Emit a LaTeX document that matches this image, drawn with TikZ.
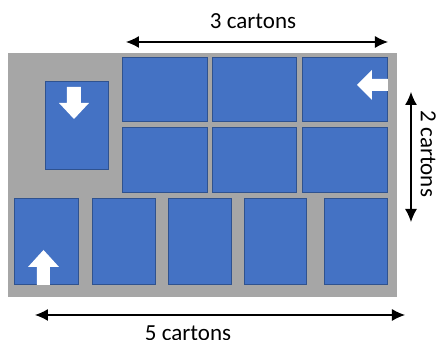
\documentclass[tikz,border=0pt]{standalone}
\usepackage{fontspec}
\setmainfont{Carlito}
\usetikzlibrary{arrows.meta}
\definecolor{boxblue}{HTML}{4472C4}
\definecolor{boxedge}{HTML}{2F528F}
\definecolor{pallet}{HTML}{A6A6A6}

\begin{document}
\begin{tikzpicture}[x=0.5pt,y=-0.5pt,
	carton/.style={fill=boxblue,draw=boxedge,line width=0.5pt},
	turn/.style={fill=white,draw=none},
	dim/.style={{Latex[length=6.5pt,width=6pt]}-{Latex[length=6.5pt,width=6pt]},line width=0.6pt},
	lbl/.style={font=\fontsize{11.5}{13}\selectfont}]
	\useasboundingbox (0,0) rectangle (436,340);

	%PALLET
	\fill[pallet] (8,53) rectangle (397,297);

	%TOP CARTONS
	\foreach \x/\xx in {123/208,213/297,303/388}{
		\foreach \y/\yy in {58/122,128/193}{
			\draw[carton] (\x,\y) rectangle (\xx,\yy);
		}
	}
	\draw[carton] (46,82) rectangle (109,170); %lone carton

	%BOTTOM CARTONS
	\foreach \x/\xx in {15/79,93/156,169/232,245/307,325/388}{
		\draw[carton] (\x,199) rectangle (\xx,285);
	}

	%TURN ARROWS
	\fill[turn] (67,87)--(81,87)--(81,103)--(89,103)--(74,119)--(59,103)--(67,103)--cycle; %down
	\fill[turn] (388,79)--(372,79)--(372,70)--(357,85)--(372,100)--(372,91)--(388,91)--cycle; %left
	\fill[turn] (37,285)--(50,285)--(50,267)--(59,267)--(43.5,250)--(28,267)--(37,267)--cycle; %up

	%DIMENSIONS
	\coordinate (top-l) at (126,42);	\coordinate (top-r) at (388,42);
	\draw[dim] (top-l) -- (top-r);
	\node[lbl,anchor=base] (top-lbl) at (253,29) {3 cartons};

	\coordinate (side-t) at (411,92);	\coordinate (side-b) at (411,222);
	\draw[dim] (side-t) -- (side-b);
	\node[lbl,rotate=-90,anchor=base] (side-lbl) at (421,154) {2 cartons};

	\coordinate (bot-l) at (35,315);	\coordinate (bot-r) at (405,315);
	\draw[dim] (bot-l) -- (bot-r);
	\node[lbl,anchor=base] (bot-lbl) at (188,341) {5 cartons};
\end{tikzpicture}
\end{document}
